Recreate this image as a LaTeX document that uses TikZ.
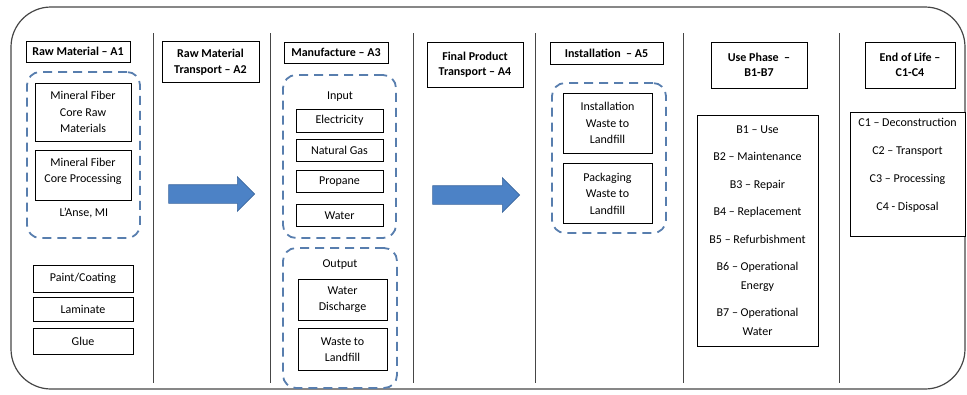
\documentclass[tikz,border=0pt]{standalone}
\usepackage{fontspec}
\setmainfont{Carlito}
\usetikzlibrary{positioning,shapes.arrows}

\definecolor{dashblue}{RGB}{88,126,174}
\definecolor{arrowblue}{RGB}{76,130,198}
\definecolor{framegray}{RGB}{70,70,70}

\begin{document}
\begin{tikzpicture}[
  x=1pt, y=-1pt,
  font=\fontsize{12}{16.5}\selectfont,
  node distance=7pt,
  box/.style={draw,line width=0.8pt,align=center,inner sep=2pt,fill=white},
  head/.style={box,font=\fontsize{12}{15.5}\selectfont\bfseries},
  group/.style={draw=dashblue,line width=1.8pt,dash pattern=on 9pt off 6pt,
                rounded corners=13pt},
  divider/.style={draw=framegray,line width=1pt},
  flow/.style={single arrow,fill=arrowblue,draw=arrowblue!80!black,line width=0.6pt,
               single arrow head extend=8pt,single arrow head indent=0pt,
               inner sep=0pt,text height=18pt,text depth=0pt,minimum width=34pt}
]
\useasboundingbox (0,0) rectangle (967,394);
\draw[framegray,line width=1.2pt,rounded corners=40pt] (11,7) rectangle (965,389);
\foreach \x in {153,270,413,535,683,839}
  \draw[divider] (\x,33) -- (\x,383);

% raw material
\node[head,minimum width=104pt,minimum height=21pt] (hA1) at (78,51.5) {Raw Material -- A1};
\node[group,minimum width=113pt,minimum height=166pt] (gA1) at (83.5,155) {};
\node[box,minimum width=96pt,minimum height=58pt] (core) at (83,112) {Mineral Fiber\\Core Raw\\Materials};
\node[box,minimum width=96pt,minimum height=50pt,below=9pt of core] (proc) {Mineral Fiber\\Core Processing\\[-6pt]\mbox{}};
\node (lanse) at (84,213) {L'Anse, MI};
\node[box,minimum width=100pt,minimum height=27pt] (paint) at (83,278.5) {Paint/Coating};
\node[box,minimum width=100pt,minimum height=24pt,below=5pt of paint] (lam) {Laminate};
\node[box,minimum width=100pt,minimum height=26pt,below=6pt of lam] (glue) {Glue};

% transport to plant
\node[head,minimum width=97pt,minimum height=41pt] (hA2) at (210.5,62) {Raw Material\\Transport -- A2};
\node[flow,minimum height=86pt] (arr2) at (207,194) {};

% manufacture
\node[head,minimum width=104pt,minimum height=21pt] (hA3) at (336,52.5) {Manufacture -- A3};
\node[group,minimum width=113pt,minimum height=163pt] (gin) at (339.5,156.5) {};
\node (input) at (340,97) {Input};
\node[box,minimum width=87pt,minimum height=23pt] (elec) at (339.5,120.5) {Electricity};
\node[box,minimum width=87pt,minimum height=22pt,below=7pt of elec] (gas) {Natural Gas};
\node[box,minimum width=87pt,minimum height=22pt,below=8pt of gas] (prop) {Propane};
\node[box,minimum width=87pt,minimum height=22pt,below=11pt of prop] (water) {Water};
\node[group,minimum width=114pt,minimum height=140pt] (gout) at (340,318) {};
\node (output) at (340,265) {Output};
\node[box,minimum width=89pt,minimum height=41pt] (disch) at (342.5,299.5) {Water\\Discharge};
\node[box,minimum width=89pt,minimum height=42pt,below=8pt of disch] (waste) {Waste to\\Landfill};

% transport to site
\node[head,minimum width=96pt,minimum height=45pt] (hA4) at (475,64.5) {Final Product\\Transport -- A4};
\node[flow,minimum height=87pt] (arr4) at (471.5,195) {};

% installation
\node[head,minimum width=113pt,minimum height=22pt] (hA5) at (606.5,53) {Installation~~-- A5};
\node[group,minimum width=114pt,minimum height=150pt] (gA5) at (609,158) {};
\node[box,minimum width=89pt,minimum height=60pt] (instw) at (607.5,123) {Installation\\Waste to\\Landfill};
\node[box,minimum width=89pt,minimum height=60pt,below=10pt of instw] (packw) {Packaging\\Waste to\\Landfill};

% use phase
\node[head,minimum width=96pt,minimum height=46pt] (hB) at (759,65) {Use Phase~~--\\B1-B7};
\node[box,minimum width=121pt,minimum height=231pt,font=\fontsize{12}{18.5}\selectfont] (use) at (757.5,230.5)
  {B1 -- Use\\[9pt] B2 -- Maintenance\\[9pt] B3 -- Repair\\[9pt] B4 -- Replacement\\[9pt]
   B5 -- Refurbishment\\[9pt] B6 -- Operational\\Energy\\[9pt] B7 -- Operational\\Water};

% end of life
\node[head,minimum width=90pt,minimum height=46pt] (hC) at (910,65) {End of Life --\\C1-C4};
\node[box,minimum width=115pt,minimum height=124pt] (eol) at (907.5,174) {};
\node[anchor=north,align=center,font=\fontsize{12}{28}\selectfont] (eoltxt) at ([yshift=-3pt]eol.north)
  {C1 -- Deconstruction\\C2 -- Transport\\C3 -- Processing\\C4 - Disposal};
\end{tikzpicture}
\end{document}
